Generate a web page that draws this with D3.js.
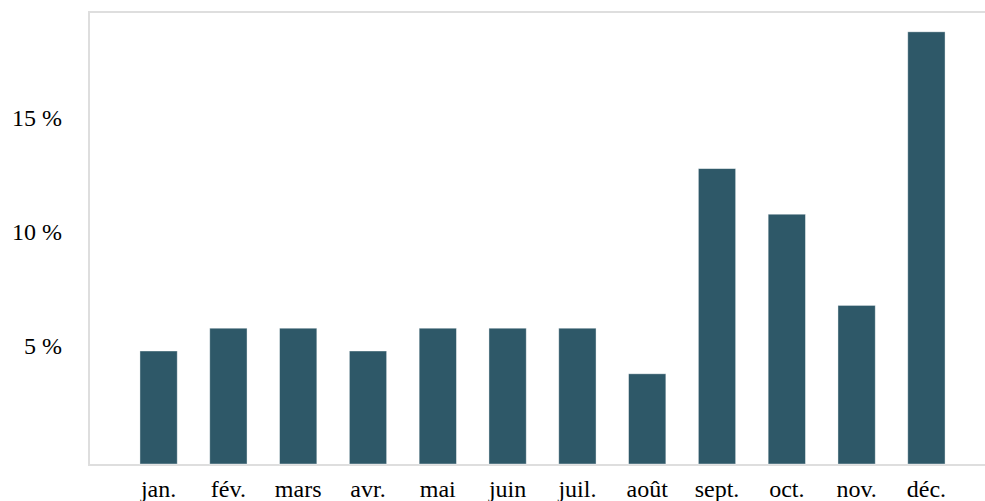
<!DOCTYPE html>
<html>
<head>
<meta charset="utf-8">
<script src="https://cdn.jsdelivr.net/npm/d3@7"></script>
<style>
  html, body { margin: 0; padding: 0; background: #fff; }
  svg { display: block; }
  svg text { font-family: "Liberation Serif", "Times New Roman", Times, serif !important; fill: #000; }
</style>
</head>
<body>
<svg id="chart" width="985" height="501"></svg>
<script>
const months = ["jan.", "fév.", "mars", "avr.", "mai", "juin", "juil.", "août", "sept.", "oct.", "nov.", "déc."];
const shares = [5, 6, 6, 5, 6, 6, 6, 4, 13, 11, 7, 19];
const yTicks = [5, 10, 15];
const yTickLabels = ["5 %", "10 %", "15 %"];

const frame = { left: 89, top: 12, right: 996, bottom: 465 };

const svg = d3.select("#chart");

const x = d3.scaleBand()
  .domain(months)
  .range([frame.left, frame.right])
  .paddingInner(0.466)
  .paddingOuter(0.73);

const y = d3.scaleLinear()
  .domain([0, 19.87])
  .range([frame.bottom, frame.top]);

// frame
svg.append("rect")
  .attr("x", frame.left)
  .attr("y", frame.top)
  .attr("width", frame.right - frame.left)
  .attr("height", frame.bottom - frame.top)
  .attr("fill", "none")
  .attr("stroke", "#dedede")
  .attr("stroke-width", 2);

// bars
svg.append("g")
  .selectAll("rect")
  .data(months.map((m, i) => ({ m, v: shares[i] })))
  .join("rect")
  .attr("x", d => x(d.m))
  .attr("y", d => y(d.v))
  .attr("width", x.bandwidth())
  .attr("height", d => y(0) - y(d.v) - 1)
  .attr("fill", "#2e5868")
  .attr("stroke", "#ffffff")
  .attr("stroke-opacity", 0.5)
  .attr("stroke-width", 0.8);

// y axis labels
const yAxis = d3.axisLeft(y)
  .tickValues(yTicks)
  .tickSize(0)
  .tickPadding(0)
  .tickFormat((d, i) => yTickLabels[i]);

const gy = svg.append("g")
  .attr("transform", "translate(62,0)")
  .call(yAxis);
gy.attr("font-family", "Liberation Serif").attr("font-size", 24);
gy.select(".domain").remove();
gy.selectAll("text")
  .attr("dy", null)
  .attr("y", 2)
  .style("font-size", "24px")
  .attr("fill", "#000");

// x axis labels
const xAxis = d3.axisBottom(x).tickSize(0).tickPadding(0);
const gx = svg.append("g")
  .attr("transform", "translate(0,497)")
  .call(xAxis);
gx.attr("font-family", "Liberation Serif").attr("font-size", 24);
gx.select(".domain").remove();
gx.selectAll("text")
  .attr("dy", null)
  .attr("y", 0)
  .style("font-size", "24px")
  .attr("fill", "#000");
</script>
</body>
</html>
